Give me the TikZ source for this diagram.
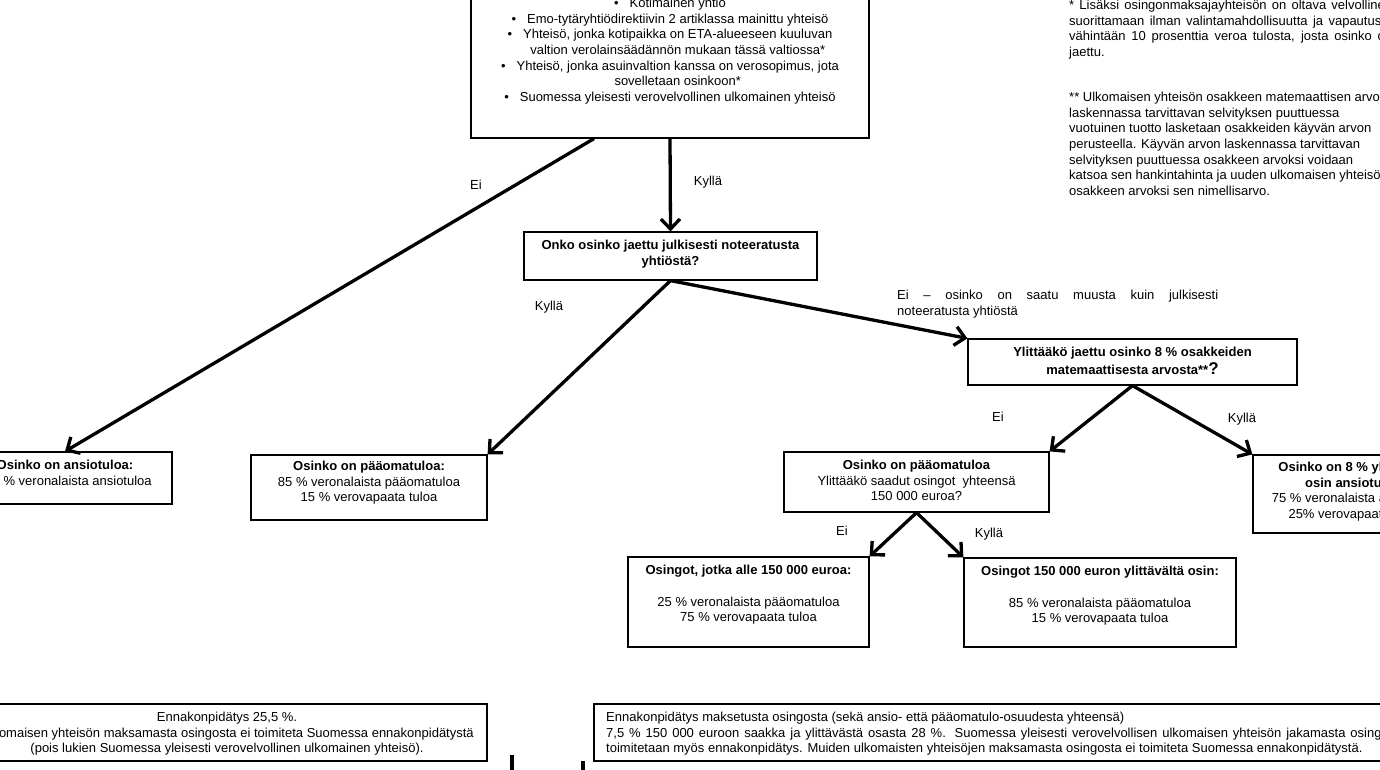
\documentclass[tikz,border=0pt]{standalone}
\usepackage{fontspec}
\setmainfont{Liberation Sans}
\usetikzlibrary{arrows.meta,calc}
\newcommand\mybul{\makebox[15.5pt][l]{\textbullet}}
\newcommand\myind{\hspace*{15.5pt}}
\begin{document}
\begin{tikzpicture}[x=1pt,y=-1pt,
  box/.style={draw,line width=1.2pt,inner sep=0pt},
  txt/.style={inner sep=0pt,align=center,font=\fontsize{13}{15.6}\selectfont},
  txtb/.style={txt,font=\fontsize{13}{15.6}\selectfont\bfseries},
  txtl/.style={inner sep=0pt,align=left,font=\fontsize{13}{15.6}\selectfont},
  lbl/.style={inner sep=0pt,anchor=base,font=\fontsize{13}{15.6}\selectfont},
  arr/.style={line width=3.3pt,-{Straight Barb[length=10pt,width=19pt]}},
  stub/.style={line width=4.5pt}
]
\useasboundingbox (0,0) rectangle (1380,769);
\fill[white] (0,0) rectangle (1380,769);
\clip (0,0) rectangle (1380,769);

% boxes
\node[box,minimum width=398pt,minimum height=178pt] (top) at (670,49) {};
\node[box,minimum width=293pt,minimum height=48pt] (onko) at (670.5,256) {};
\node[box,minimum width=329pt,minimum height=46pt] (ylit) at (1132.5,362) {};
\node[box,minimum width=214pt,minimum height=52pt] (ansio) at (65,478) {};
\node[box,minimum width=236pt,minimum height=65pt] (paa1) at (369,487.5) {};
\node[box,minimum width=265pt,minimum height=60pt] (mid) at (916.5,482) {};
\node[box,minimum width=204pt,minimum height=78pt] (right) at (1355,494) {};
\node[box,minimum width=241pt,minimum height=90pt] (alle) at (748.5,602) {};
\node[box,minimum width=272pt,minimum height=89pt] (yli150) at (1100,602.5) {};
\node[box,minimum width=520pt,minimum height=57pt] (bl) at (227,732.5) {};
\node[box,minimum width=824pt,minimum height=57pt] (br) at (1006,732.5) {};

% box texts
\node[txt,anchor=north] (toptext) at (670,-2) {\mybul Kotimainen yhtiö\\
\mybul Emo-tytäryhtiödirektiivin 2 artiklassa mainittu yhteisö\\
\mybul Yhteisö, jonka kotipaikka on ETA-alueeseen kuuluvan\\
\myind valtion verolainsäädännön mukaan tässä valtiossa*\\
\mybul Yhteisö, jonka asuinvaltion kanssa on verosopimus, jota\\
\myind sovelletaan osinkoon*\\
\mybul Suomessa yleisesti verovelvollinen ulkomainen yhteisö};

\node[txtb,anchor=north] (onkotext) at (670.5,240) {Onko osinko jaettu julkisesti noteeratusta\\yhtiöstä?};

\node[txtb,anchor=north] (ylittext) at (1132.5,347) {Ylittääkö jaettu osinko 8 \% osakkeiden\\[2pt]matemaattisesta arvosta**{\fontsize{17}{19}\selectfont ?}};

\node[txt,anchor=north] (ansiotext) at (65,460) {\textbf{Osinko on ansiotuloa:}\\100 \% veronalaista ansiotuloa};

\node[txt,anchor=north] (paa1text) at (369,461) {\textbf{Osinko on pääomatuloa:}\\85 \% veronalaista pääomatuloa\\15 \% verovapaata tuloa};

\node[txt,anchor=north] (midtext) at (916.5,460) {\textbf{Osinko on pääomatuloa}\\Ylittääkö saadut osingot\ \ yhteensä\\150 000 euroa?};

\node[txt,anchor=north] (righttext) at (1355,462) {\textbf{Osinko on 8 \% ylittävältä}\\\textbf{osin ansiotuloa:}\\75 \% veronalaista ansiotuloa\\25\% verovapaata tuloa};

\node[txt,anchor=north] (alletext) at (748.5,565) {\textbf{Osingot, jotka alle 150 000 euroa:}\\[16pt]25 \% veronalaista pääomatuloa\\75 \% verovapaata tuloa};

\node[txt,anchor=north] (yli150text) at (1100,566) {\textbf{Osingot 150 000 euron ylittävältä osin:}\\[16pt]85 \% veronalaista pääomatuloa\\15 \% verovapaata tuloa};

\node[txt,anchor=north] (bltext) at (227,712) {Ennakonpidätys 25,5 \%.\\Ulkomaisen yhteisön maksamasta osingosta ei toimiteta Suomessa ennakonpidätystä\\(pois lukien Suomessa yleisesti verovelvollinen ulkomainen yhteisö).};

\node[txtl,anchor=north west] (brtext) at (606,712) {Ennakonpidätys maksetusta osingosta (sekä ansio- että pääomatulo-osuudesta yhteensä)\\
\makebox[800pt][s]{7,5 \% 150 000 euroon saakka ja ylittävästä osasta 28 \%. Suomessa yleisesti verovelvollisen ulkomaisen yhteisön jakamasta osingosta}\\
toimitetaan myös ennakonpidätys. Muiden ulkomaisten yhteisöjen maksamasta osingosta ei toimiteta Suomessa ennakonpidätystä.};

% footnotes
\node[txtl,anchor=north west] (fn1) at (1069,0) {\makebox[323pt][s]{* Lisäksi osingonmaksajayhteisön on oltava velvollinen}\\
\makebox[323pt][s]{suorittamaan ilman valintamahdollisuutta ja vapautusta}\\
\makebox[323pt][s]{vähintään 10 prosenttia veroa tulosta, josta osinko on}\\
jaettu.};
\node[txtl,anchor=north west] (fn2) at (1069,92) {** Ulkomaisen yhteisön osakkeen matemaattisen arvon\\
laskennassa tarvittavan selvityksen puuttuessa\\
vuotuinen tuotto lasketaan osakkeiden käyvän arvon\\
perusteella. Käyvän arvon laskennassa tarvittavan\\
selvityksen puuttuessa osakkeen arvoksi voidaan\\
katsoa sen hankintahinta ja uuden ulkomaisen yhteisön\\
osakkeen arvoksi sen nimellisarvo.};

% connectors
\draw[arr] ($(top.south)+(-76,0)$) -- (ansio.north);
\draw[arr] (top.south) -- (onko.north);
\draw[arr] (onko.south) -- (paa1.north east);
\draw[arr] (onko.south) -- (ylit.north west);
\draw[arr] (ylit.south) -- (mid.north east);
\draw[arr] (ylit.south) -- (right.north west);
\draw[arr] (mid.south) -- (alle.north east);
\draw[arr] (mid.south) -- (yli150.north west);

% labels
\node[lbl] (l1) at (476,189.5) {Ei};
\node[lbl] (l2) at (708,185.5) {Kyllä};
\node[lbl] (l3) at (549,310.5) {Kyllä};
\node[txtl,anchor=north west] (l4) at (897,290) {\makebox[321pt][s]{Ei – osinko on saatu muusta kuin julkisesti}\\noteeratusta yhtiöstä};
\node[lbl] (l5) at (998,421.5) {Ei};
\node[lbl] (l6) at (1242,422.5) {Kyllä};
\node[lbl] (l7) at (842,535.5) {Ei};
\node[lbl] (l8) at (989,537.5) {Kyllä};

% cut-off fragments at the bottom edge
\coordinate (m1a) at (512,755);
\coordinate (m1b) at (512,775);
\coordinate (m2a) at (583,761);
\coordinate (m2b) at (583,775);
\draw[stub] (m1a) -- (m1b);
\draw[stub] (m2a) -- (m2b);
\end{tikzpicture}
\end{document}
